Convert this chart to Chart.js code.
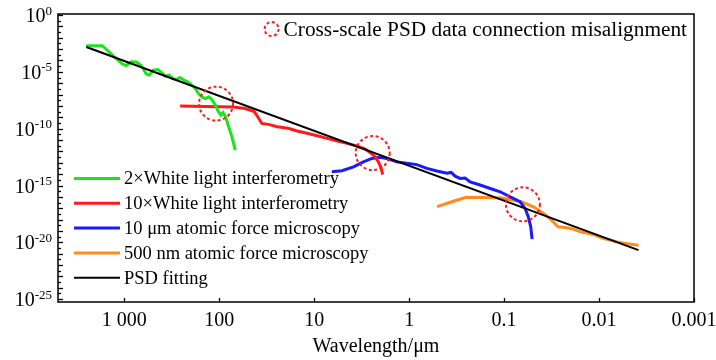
<!DOCTYPE html>
<html><head><meta charset="utf-8">
<script src="https://cdn.jsdelivr.net/npm/chart.js@4.4.1/dist/chart.umd.min.js"></script>
<style>html,body{margin:0;padding:0;background:#fff}#wrap{width:716px;height:360px;position:relative}</style>
</head><body><div id="wrap"><canvas id="c"></canvas></div>
<script>
// ---- data (wavelength in µm, PSD) ----
const seriesLabels = ['2×White light interferometry','10×White light interferometry','10 μm atomic force microscopy','500 nm atomic force microscopy','PSD fitting'];
const greenWavelength = [2512,1706,1050,953,844,748,662,587,545,495,444,398,370,336,312,284,258,237,217,192,179,164,151,140,129,119,110,102,96,91.4,85.4,79.4,73.4,67.9];
const greenPsd = [2.0e-3,2.0e-3,4.9e-5,3.6e-5,7.8e-5,7.3e-5,3.6e-5,6.4e-6,5.2e-6,1.4e-5,1.6e-5,7.8e-6,4.3e-6,5.2e-6,2.6e-6,2.1e-6,3.2e-6,1.9e-6,1.4e-6,6.2e-7,3.4e-7,1.1e-7,6.0e-8,4.5e-8,6.4e-8,3.3e-8,1.2e-8,3.1e-9,1.6e-9,2.6e-9,1.0e-9,1.4e-10,1.8e-11,1.3e-12];
const redWavelength = [258,140,71.3,53.2,42.8,39.8,35.6,30.3,24.5,18.8,15.1,11.9,9.3,7.3,5.7,4.5,3.5,2.9,2.58,2.28,2.10,1.97,1.90];
const redPsd = [9.8e-9,8.8e-9,7.9e-9,5.9e-9,3.2e-9,1.3e-9,2.9e-10,2.4e-10,1.5e-10,1.1e-10,6.2e-11,3.9e-11,2.4e-11,1.4e-11,8.1e-12,5.1e-12,2.9e-12,1.6e-12,8.2e-13,3.4e-13,1.1e-13,3.4e-14,9.1e-15];
const blueWavelength = [6.52,5.11,3.85,3.03,2.47,2.02,1.72,1.35,1.06,0.83,0.65,0.51,0.40,0.361,0.328,0.290,0.257,0.228,0.179,0.140,0.110,0.0864,0.0679,0.0601,0.0555,0.0524,0.0507];
const bluePsd = [1.6e-14,2.0e-14,4.4e-14,1.2e-13,2.4e-13,3.0e-13,2.4e-13,1.2e-13,8.9e-14,6.9e-14,3.2e-14,1.9e-14,1.2e-14,1.4e-14,6.7e-15,4.2e-15,4.5e-15,2.1e-15,1.1e-15,5.5e-16,2.8e-16,1.0e-16,3.7e-17,9.6e-18,1.7e-18,2.3e-19,1.9e-20];
const orangeWavelength = [0.507,0.361,0.251,0.158,0.105,0.0824,0.0647,0.0496,0.0388,0.0320,0.0270,0.0228,0.0192,0.0158,0.0134,0.0110,0.00908,0.00766,0.00647,0.00546,0.00460,0.00384];
const orangePsd = [1.4e-17,3.5e-17,9.1e-17,8.6e-17,7.8e-17,5.2e-17,3.5e-17,1.4e-17,3.7e-18,1.0e-18,2.3e-19,2.0e-19,1.6e-19,8.4e-20,6.5e-20,4.3e-20,2.3e-20,1.6e-20,1.1e-20,8.5e-21,6.9e-21,5.6e-21];
const fitWavelength = [2512,0.00384];
const fitPsd = [1.52e-3,2.05e-21];
const circleWavelength = [108,2.42,0.0634];
const circlePsd = [1.6e-8,7.1e-13,2.2e-17];
const annotationText = 'Cross-scale PSD data connection misalignment';
const xTickValues = [1000,100,10,1,0.1,0.01,0.001];
const xTickLabels = ['1 000','100','10','1','0.1','0.01','0.001'];
const yTickExponents = [0,-5,-10,-15,-20,-25];
const yTickLabels = ['10^0','10^-5','10^-10','10^-15','10^-20','10^-25'];
const xTitle = 'Wavelength/μm';

const pts = (xs, ys) => xs.map((x, i) => ({x, y: ys[i]}));
const SERIF = "'Liberation Serif','Times New Roman',serif";
Chart.defaults.font.family = SERIF;
Chart.defaults.color = '#000';

const colors = ['#19e619','#ff1a1a','#1a1aff','#ff8c1a','#000000'];
const widths = [3,3,3,3,2];
const series = [[greenWavelength,greenPsd],[redWavelength,redPsd],[blueWavelength,bluePsd],[orangeWavelength,orangePsd],[fitWavelength,fitPsd]];

const yLabelFor = v => {
  const e = Math.round(Math.log10(v) * 2) / 2;
  const idx = yTickExponents.indexOf(e);
  return idx >= 0 ? yTickLabels[idx] : '';
};

const frame = {
  id: 'frame',
  afterDatasetsDraw(chart) {
    const {ctx, chartArea: a, scales: {x, y}} = chart;
    ctx.save();
    // dashed circles
    ctx.strokeStyle = '#ff1a1a'; ctx.lineWidth = 2; ctx.setLineDash([3, 2.5]);
    circleWavelength.forEach((w, i) => {
      ctx.beginPath();
      ctx.arc(x.getPixelForValue(w), y.getPixelForValue(circlePsd[i]), 17, 0, Math.PI * 2);
      ctx.stroke();
    });
    ctx.setLineDash([]);
    // frame
    ctx.strokeStyle = '#000'; ctx.lineWidth = 1.5;
    ctx.strokeRect(a.left, a.top, a.right - a.left, a.bottom - a.top);
    ctx.lineWidth = 1.3;
    x.ticks.forEach(t => {
      const px = Math.round(x.getPixelForValue(t.value)) + 0.5;
      ctx.beginPath(); ctx.moveTo(px, a.bottom); ctx.lineTo(px, a.bottom - 4); ctx.stroke();
    });
    y.ticks.forEach(t => {
      const py = Math.round(y.getPixelForValue(t.value)) + 0.5;
      const e = Math.log10(t.value);
      const len = Math.abs(e - Math.round(e)) < 1e-6 ? 5 : 3;
      ctx.beginPath(); ctx.moveTo(a.left, py); ctx.lineTo(a.left + len, py); ctx.stroke();
    });
    // y tick labels: base 10 with raised exponent
    ctx.fillStyle = '#000'; ctx.textBaseline = 'alphabetic'; ctx.textAlign = 'left';
    y.ticks.forEach(t => {
      const lab = yLabelFor(t.value);
      if (!lab) return;
      const [base, exp] = lab.split('^');
      const py = y.getPixelForValue(t.value);
      ctx.font = '13px ' + SERIF; const we = ctx.measureText(exp).width;
      ctx.font = '20px ' + SERIF; const wb = ctx.measureText(base).width;
      const right = a.left - 6;
      ctx.fillText(base, right - we - wb, py + 7);
      ctx.font = '13px ' + SERIF; ctx.fillText(exp, right - we, py - 0.5);
    });
    // legend
    ctx.font = '18.5px ' + SERIF; ctx.textBaseline = 'middle'; ctx.textAlign = 'left';
    chart.data.datasets.forEach((ds, i) => {
      const ly = 178.5 + i * 24.8;
      ctx.strokeStyle = ds.borderColor; ctx.lineWidth = ds.borderWidth;
      ctx.beginPath(); ctx.moveTo(a.left + 16, ly); ctx.lineTo(a.left + 62, ly); ctx.stroke();
      ctx.fillStyle = '#000'; ctx.fillText(ds.label, a.left + 66, ly + 1);
    });
    // annotation
    ctx.font = '21.3px ' + SERIF;
    const tw = ctx.measureText(annotationText).width;
    const tx = a.right - 7 - tw;
    ctx.fillText(annotationText, tx, 30);
    ctx.strokeStyle = '#ff1a1a'; ctx.lineWidth = 2; ctx.setLineDash([3, 2.5]);
    ctx.beginPath(); ctx.arc(tx - 12, 29, 7, 0, Math.PI * 2); ctx.stroke();
    ctx.restore();
  }
};

new Chart(document.getElementById('c'), {
  type: 'line',
  data: {
    datasets: series.map((s, i) => ({
      label: seriesLabels[i], data: pts(s[0], s[1]),
      borderColor: colors[i], backgroundColor: colors[i], borderWidth: widths[i],
      pointRadius: 0, tension: 0, fill: false, order: i === 4 ? -1 : i
    }))
  },
  options: {
    responsive: true, maintainAspectRatio: false, animation: false,
    layout: {padding: {left: 0, right: 22, top: 14, bottom: 0}},
    plugins: {legend: {display: false}, tooltip: {enabled: false}},
    scales: {
      x: {
        type: 'logarithmic', reverse: true, min: 0.001, max: 4990,
        afterBuildTicks: s => { s.ticks = xTickValues.map(v => ({value: v})); },
        afterFit: s => { s.height = 58; s.paddingLeft = 0; s.paddingRight = 0; },
        grid: {display: false, drawTicks: false}, border: {display: false},
        ticks: {autoSkip: false, maxRotation: 0, padding: 7, font: {size: 20},
          callback: (v, i) => xTickLabels[i]},
        title: {display: true, text: xTitle, font: {size: 20}, padding: {top: 0, bottom: 1}}
      },
      y: {
        type: 'logarithmic', min: Math.pow(10, -25.25), max: Math.pow(10, 0.09),
        afterBuildTicks: s => { const t = []; for (let k = 0; k <= 50; k++) t.push({value: Math.pow(10, -k / 2)}); s.ticks = t; },
        afterFit: s => { s.width = 58; s.paddingTop = 0; s.paddingBottom = 0; },
        grid: {display: false, drawTicks: false}, border: {display: false},
        ticks: {autoSkip: false, padding: 6, font: {size: 20}, color: 'rgba(0,0,0,0)',
          callback: v => yLabelFor(v)}
      }
    }
  },
  plugins: [frame]
});
</script></body></html>
